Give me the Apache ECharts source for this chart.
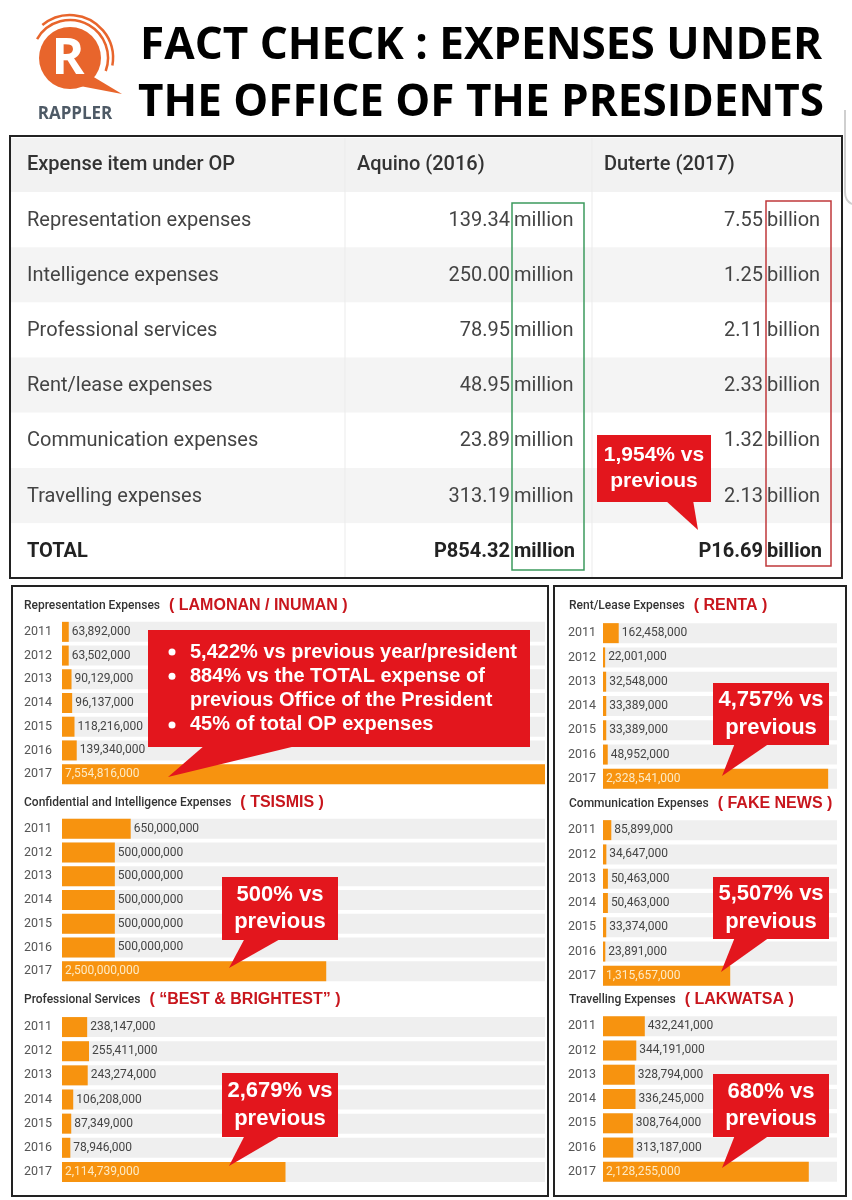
<!DOCTYPE html>
<html><head><meta charset="utf-8">
<script src="https://cdn.jsdelivr.net/npm/echarts@6/dist/echarts.min.js"></script>
<style>html,body{margin:0;padding:0;background:#fff}#c{width:852px;height:1200px}</style>
</head><body><div id="c"></div><script>
// ---------------- data ----------------
const years = ['2011', '2012', '2013', '2014', '2015', '2016', '2017'];
const representation = [63892000, 63502000, 90129000, 96137000, 118216000, 139340000, 7554816000];
const intelligence = [650000000, 500000000, 500000000, 500000000, 500000000, 500000000, 2500000000];
const professional = [238147000, 255411000, 243274000, 106208000, 87349000, 78946000, 2114739000];
const rentLease = [162458000, 22001000, 32548000, 33389000, 33389000, 48952000, 2328541000];
const communication = [85899000, 34647000, 50463000, 50463000, 33374000, 23891000, 1315657000];
const travelling = [432241000, 344191000, 328794000, 336245000, 308764000, 313187000, 2128255000];

const chartNames = ['Representation Expenses', 'Confidential and Intelligence Expenses', 'Professional Services',
  'Rent/Lease Expenses', 'Communication Expenses', 'Travelling Expenses'];
const chartTags = ['( LAMONAN / INUMAN )', '( TSISMIS )', '( \u201cBEST & BRIGHTEST\u201d )',
  '( RENTA )', '( FAKE NEWS )', '( LAKWATSA )'];

const tableHeader = ['Expense item under OP', 'Aquino (2016)', 'Duterte (2017)'];
const tableItems = ['Representation expenses', 'Intelligence expenses', 'Professional services',
  'Rent/lease expenses', 'Communication expenses', 'Travelling expenses', 'TOTAL'];
const aquino2016 = ['139.34', '250.00', '78.95', '48.95', '23.89', '313.19', 'P854.32'];
const duterte2017 = ['7.55', '1.25', '2.11', '2.33', '1.32', '2.13', 'P16.69'];
const aquinoUnit = 'million';
const duterteUnit = 'billion';

const titleLines = ['FACT CHECK : EXPENSES UNDER', 'THE OFFICE OF THE PRESIDENTS'];
const bigCallout = ['5,422% vs previous year/president', '884% vs the TOTAL expense of',
  'previous Office of the President', '45% of total OP expenses'];
const bigBullets = [true, true, false, true];
const smallCallouts = ['500% vs', '2,679% vs', '4,757% vs', '5,507% vs', '680% vs'];
const tableCallout = '1,954% vs';
const calloutSecond = 'previous';

const seriesValues = [representation, intelligence, professional, rentLease, communication, travelling];

// ---------------- layout ----------------
const panels = [
  { left: 62, right: 545, top: 620, height: 166, titleX: 24, titleY: 606, yearX: 24, max: 4.57e9 },
  { left: 62, right: 545, top: 817, height: 166, titleX: 24, titleY: 803, yearX: 24, max: 4.57e9 },
  { left: 62, right: 545, top: 1015, height: 169, titleX: 24, titleY: 1000, yearX: 24, max: 4.57e9 },
  { left: 603, right: 837, top: 621, height: 170, titleX: 569, titleY: 606, yearX: 568, max: 2.42e9 },
  { left: 603, right: 837, top: 818, height: 170, titleX: 569, titleY: 804, yearX: 568, max: 2.42e9 },
  { left: 603, right: 837, top: 1014, height: 170, titleX: 569, titleY: 1000, yearX: 568, max: 2.42e9 }
];
const fmt = v => Number(v).toLocaleString('en-US');
const RED = '#e3161d';
const ORANGE = '#f7930f';

function fitScale(text, font, target) {
  const ctx = document.createElement('canvas').getContext('2d');
  ctx.font = font;
  return target / ctx.measureText(text).width;
}

const chart = echarts.init(document.getElementById('c'), null, { renderer: 'canvas' });

const grids = [], xAxes = [], yAxes = [], series = [], titles = [];
panels.forEach((p, i) => {
  grids.push({ left: p.left, top: p.top, width: p.right - p.left, height: p.height, containLabel: false });
  xAxes.push({ type: 'value', gridIndex: i, min: 0, max: p.max, show: false });
  yAxes.push({
    type: 'category', gridIndex: i, data: years, inverse: true,
    axisLine: { show: false }, axisTick: { show: false }, splitLine: { show: false },
    axisLabel: { align: 'left', margin: p.left - p.yearX, color: '#555', fontSize: 12.5, fontFamily: 'Roboto' }
  });
  series.push({
    type: 'bar', xAxisIndex: i, yAxisIndex: i, barWidth: 20, clip: true, silent: true,
    itemStyle: { color: ORANGE },
    showBackground: true, backgroundStyle: { color: '#efefef' },
    label: { show: true, position: 'right', distance: 3, formatter: q => fmt(q.value),
      color: '#444', fontSize: 12, fontFamily: 'Roboto' },
    data: seriesValues[i].map((v, j) => j === years.length - 1
      ? { value: v, label: { position: 'insideLeft', distance: 3, color: '#fdebc6' } } : v)
  });
  titles.push({
    left: p.titleX, top: p.titleY - 9, padding: 0,
    text: '{a|' + chartNames[i] + '}{g|}{b|' + chartTags[i] + '}',
    textStyle: { rich: {
      a: { fontFamily: 'Roboto', fontSize: 12, fontWeight: 500, color: '#333' },
      g: { width: 9 },
      b: { fontFamily: 'Liberation Sans', fontWeight: 'bold', fontSize: 16, color: '#c8161d' }
    } }
  });
});

// ---------------- graphics ----------------
const g = [];
function txt(x, y, text, font, fill, align, extra) {
  g.push(Object.assign({ type: 'text', x, y, z: 50, style: {
    text, font, fill, textAlign: align || 'left', align: align || 'left',
    textVerticalAlign: 'middle', verticalAlign: 'middle' } }, extra || {}));
}

// logo
g.push({ type: 'circle', shape: { cx: 70, cy: 58, r: 31 }, style: { fill: '#e8652c' } });
[[38, -150, 20], [43, -130, 10]].forEach(a => g.push({ type: 'arc',
  shape: { cx: 70, cy: 58, r: a[0], startAngle: a[1] * Math.PI / 180, endAngle: a[2] * Math.PI / 180 },
  style: { stroke: '#e8652c', lineWidth: 2.5, fill: null } }));
g.push({ type: 'polygon', shape: { points: [[82, 70], [122, 94], [80, 86]] }, style: { fill: '#e8652c' } });
txt(68, 60, 'R', 'bold 50px "Open Sans"', '#fff', 'center');
txt(75, 114, 'RAPPLER', 'bold 17px "Open Sans"', '#4e5a66', 'center');

// title
const tFont = 'bold 44px "Open Sans"';
titleLines.forEach((t, i) => {
  const s = fitScale(t, tFont, i === 0 ? 682 : 686);
  g.push({ type: 'text', x: 481, y: i === 0 ? 46 : 103, scaleX: s, z: 50,
    style: { text: t, font: tFont, fill: '#000', textAlign: 'center', align: 'center',
      textVerticalAlign: 'middle', verticalAlign: 'middle' } });
});

// screenshot edge artefact at the right
g.push({ type: 'polyline', shape: { points: [[845, 110], [845, 192]] },
  style: { stroke: '#cfcfcf', lineWidth: 2, fill: null } });
g.push({ type: 'bezierCurve', shape: { x1: 845, y1: 192, cpx1: 845, cpy1: 201, x2: 852, y2: 204 },
  style: { stroke: '#cfcfcf', lineWidth: 2, fill: null } });

// table
const tTop = 138, headH = 54, rowH = 55.2;
g.push({ type: 'rect', shape: { x: 11, y: tTop, width: 830, height: headH }, style: { fill: '#f2f2f2' } });
tableItems.forEach((it, i) => {
  const y = tTop + headH + i * rowH;
  g.push({ type: 'rect', shape: { x: 11, y, width: 830, height: rowH }, style: { fill: i % 2 ? '#f4f4f4' : '#ffffff' } });
});
[345, 592].forEach(x => g.push({ type: 'line', shape: { x1: x, y1: tTop, x2: x, y2: 577 }, style: { stroke: '#ebebeb', lineWidth: 1 } }));
g.push({ type: 'rect', shape: { x: 10, y: 136, width: 832, height: 442 }, style: { fill: null, stroke: '#222', lineWidth: 2 }, z: 40 });
const hFont = '500 20px Roboto';
txt(27, tTop + headH / 2, tableHeader[0], hFont, '#333');
txt(357, tTop + headH / 2, tableHeader[1], hFont, '#333');
txt(604, tTop + headH / 2, tableHeader[2], hFont, '#333');
tableItems.forEach((it, i) => {
  const y = tTop + headH + i * rowH + rowH / 2 + 1;
  const last = i === tableItems.length - 1;
  const f = last ? 'bold 20px Roboto' : '20px Roboto';
  const c = last ? '#222' : '#444';
  txt(27, y, it, f, c);
  txt(510, y, aquino2016[i], f, c, 'right');
  txt(514, y, aquinoUnit, f, c);
  txt(763, y, duterte2017[i], f, c, 'right');
  txt(767, y, duterteUnit, f, c);
});
g.push({ type: 'rect', shape: { x: 512, y: 203, width: 72, height: 367 }, style: { fill: null, stroke: '#3c9a5e', lineWidth: 1.5 }, z: 45 });
g.push({ type: 'rect', shape: { x: 766, y: 201, width: 65, height: 365 }, style: { fill: null, stroke: '#c0393b', lineWidth: 1.5 }, z: 45 });

// panels
g.push({ type: 'rect', shape: { x: 12, y: 586, width: 536, height: 610 }, style: { fill: null, stroke: '#222', lineWidth: 2 }, z: 40 });
g.push({ type: 'rect', shape: { x: 554, y: 586, width: 292, height: 610 }, style: { fill: null, stroke: '#222', lineWidth: 2 }, z: 40 });

// callouts
function callout(x, y, w, h, tail, lines, size) {
  g.push({ type: 'rect', shape: { x, y, width: w, height: h }, style: { fill: RED }, z: 60 });
  g.push({ type: 'polygon', shape: { points: tail }, style: { fill: RED }, z: 60 });
  lines.forEach((l, k) => {
    g.push({ type: 'text', x: x + w / 2, y: y + h / 2 + (k - (lines.length - 1) / 2) * (size * 1.25), z: 61,
      style: { text: l, font: 'bold ' + size + 'px "Liberation Sans"', fill: '#fff', textAlign: 'center', align: 'center',
        textVerticalAlign: 'middle', verticalAlign: 'middle' } });
  });
}
// big callout
g.push({ type: 'rect', shape: { x: 148, y: 630, width: 382, height: 117 }, style: { fill: RED }, z: 60 });
g.push({ type: 'polygon', shape: { points: [[205, 745], [300, 745], [168, 777]] }, style: { fill: RED }, z: 60 });
bigCallout.forEach((l, k) => {
  const y = 652 + k * 24.3;
  if (bigBullets[k]) g.push({ type: 'circle', shape: { cx: 172, cy: y, r: 3.5 }, style: { fill: '#fff' }, z: 61 });
  g.push({ type: 'text', x: 190, y, z: 61, style: { text: l, font: 'bold 20px "Liberation Sans"', fill: '#fff',
    textAlign: 'left', align: 'left', textVerticalAlign: 'middle', verticalAlign: 'middle' } });
});
callout(222, 877, 116, 63, [[245, 938], [282, 938], [229, 968]], [smallCallouts[0], calloutSecond], 22);
callout(222, 1073, 116, 64, [[245, 1135], [282, 1135], [229, 1166]], [smallCallouts[1], calloutSecond], 22);
callout(713, 683, 116, 62, [[735, 743], [770, 743], [722, 776]], [smallCallouts[2], calloutSecond], 22);
callout(713, 877, 116, 62, [[735, 937], [770, 937], [721, 972]], [smallCallouts[3], calloutSecond], 22);
callout(713, 1074, 116, 63, [[735, 1135], [770, 1135], [722, 1168]], [smallCallouts[4], calloutSecond], 22);
callout(597, 435, 114, 67, [[665, 500], [693, 500], [698, 530]], [tableCallout, calloutSecond], 21);

chart.setOption({
  animation: false,
  backgroundColor: '#fff',
  title: titles,
  grid: grids,
  xAxis: xAxes,
  yAxis: yAxes,
  series: series,
  graphic: { elements: g }
});
</script></body></html>
